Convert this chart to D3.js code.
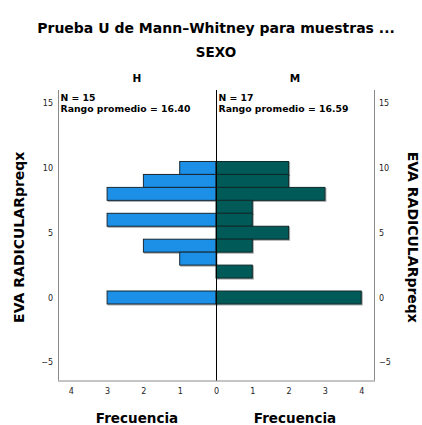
<!DOCTYPE html>
<html><head><meta charset="utf-8">
<script src="https://cdn.jsdelivr.net/npm/d3@7"></script>
<style>
html,body{margin:0;padding:0;background:#fff;}
svg{display:block;font-family:"DejaVu Sans",sans-serif;}
</style></head>
<body>
<svg id="c" width="422" height="425"></svg>
<script>
const title = "Prueba U de Mann\u2013Whitney para muestras ...";
const groupTitle = "SEXO";
const groups = ["H", "M"];
const groupN = [15, 17];
const groupRank = ["16.40", "16.59"];
const bins = [10, 9, 8, 7, 6, 5, 4, 3, 2, 0];
const freqH = [1, 2, 3, 0, 3, 0, 2, 1, 0, 3];
const freqM = [2, 2, 3, 1, 1, 2, 1, 0, 1, 4];
const yTicks = [-5, 0, 5, 10, 15];
const xTicks = [0, 1, 2, 3, 4];
const yTitle = "EVA RADICULARpreqx";
const xTitle = "Frecuencia";
const colors = ["#1a8fe6", "#025a59"];

const svg = d3.select("#c");
const L = 58, R = 374, C = 216, T = 90, B = 380.5;
const y = d3.scaleLinear().domain([-6.41, 16.02]).range([B, T]);
const xL = d3.scaleLinear().domain([0, (C - L) / 36.3]).range([C, L]);
const xR = d3.scaleLinear().domain([0, (R - C) / 36.3]).range([C, R]);

// titles
svg.append("text").attr("x", 216).attr("y", 33).attr("text-anchor", "middle")
  .attr("font-weight", "bold").attr("font-size", 14).text(title);
svg.append("text").attr("x", 216).attr("y", 57).attr("text-anchor", "middle")
  .attr("font-weight", "bold").attr("font-size", 13.5).text(groupTitle);
[xL, xR].forEach((sc, i) => {
  const cx = (sc.range()[0] + sc.range()[1]) / 2;
  svg.append("text").attr("x", cx).attr("y", 82).attr("text-anchor", "middle")
    .attr("font-weight", "bold").attr("font-size", 10.5).text(groups[i]);
});

// shadow filter
const defs = svg.append("defs");
const f = defs.append("filter").attr("id", "sh").attr("x", "-10%").attr("y", "-30%").attr("width", "130%").attr("height", "180%");
f.append("feDropShadow").attr("dx", 1).attr("dy", 1).attr("stdDeviation", 0.6).attr("flood-color", "#000").attr("flood-opacity", 0.35);

// bars
const data = bins.map((b, i) => ({ b, h: freqH[i], m: freqM[i] }));
const g = svg.append("g");
g.selectAll("rect.h").data(data.filter(d => d.h > 0)).join("rect").attr("class", "h")
  .attr("x", d => xL(d.h)).attr("width", d => xL(0) - xL(d.h))
  .attr("y", d => y(d.b + 0.5)).attr("height", d => y(d.b - 0.5) - y(d.b + 0.5))
  .attr("fill", colors[0]).attr("stroke", "#1b2a33").attr("stroke-width", 1)
  .attr("filter", "url(#sh)");
g.selectAll("rect.m").data(data.filter(d => d.m > 0)).join("rect").attr("class", "m")
  .attr("x", xR(0)).attr("width", d => xR(d.m) - xR(0))
  .attr("y", d => y(d.b + 0.5)).attr("height", d => y(d.b - 0.5) - y(d.b + 0.5))
  .attr("fill", colors[1]).attr("stroke", "#0f2a2a").attr("stroke-width", 1)
  .attr("filter", "url(#sh)");

// frame
svg.append("line").attr("x1", L + 0.5).attr("x2", L + 0.5).attr("y1", T).attr("y2", B).attr("stroke", "#8a8a8a");
svg.append("line").attr("x1", R + 0.5).attr("x2", R + 0.5).attr("y1", T).attr("y2", B).attr("stroke", "#8a8a8a");
svg.append("line").attr("x1", L).attr("x2", R + 1).attr("y1", B + 0.5).attr("y2", B + 0.5).attr("stroke", "#8a8a8a");
svg.append("line").attr("x1", C + 0.5).attr("x2", C + 0.5).attr("y1", T).attr("y2", B).attr("stroke", "#000");

// N labels
[xL, xR].forEach((sc, i) => {
  const x0 = (i === 0 ? L : C) + 2.5;
  svg.append("text").attr("x", x0).attr("y", 100.5).attr("font-weight", "bold").attr("font-size", 9.3).text("N = " + groupN[i]);
  svg.append("text").attr("x", x0).attr("y", 111.5).attr("font-weight", "bold").attr("font-size", 9.3).text("Rango promedio = " + groupRank[i]);
});

// y axes
const fmt = d => d < 0 ? "\u2212" + Math.abs(d) : d;
const ayL = svg.append("g").attr("transform", `translate(${L - 3},0)`)
  .call(d3.axisLeft(y).tickValues(yTicks).tickSize(0).tickPadding(2).tickFormat(fmt));
const ayR = svg.append("g").attr("transform", `translate(${R + 3},0)`)
  .call(d3.axisRight(y).tickValues(yTicks).tickSize(0).tickPadding(2).tickFormat(fmt));
[ayL, ayR].forEach(a => {
  a.select(".domain").remove();
  a.selectAll("text").attr("font-size", 8).attr("font-family", "DejaVu Sans").attr("fill", "#222");
});

// x axes
const axL = svg.append("g").attr("transform", `translate(0,${B + 6})`)
  .call(d3.axisBottom(xL).tickValues(xTicks).tickSize(0).tickPadding(2).tickFormat(d3.format("d")));
const axR = svg.append("g").attr("transform", `translate(0,${B + 6})`)
  .call(d3.axisBottom(xR).tickValues(xTicks.slice(1)).tickSize(0).tickPadding(2).tickFormat(d3.format("d")));
[axL, axR].forEach(a => {
  a.select(".domain").remove();
  a.selectAll("text").attr("font-size", 8).attr("font-family", "DejaVu Sans").attr("fill", "#222");
});

// axis titles
[xL, xR].forEach(sc => {
  const cx = (sc.range()[0] + sc.range()[1]) / 2;
  svg.append("text").attr("x", cx).attr("y", 423).attr("text-anchor", "middle")
    .attr("font-weight", "bold").attr("font-size", 13.5).text(xTitle);
});
const ym = (T + B) / 2 + 2;
svg.append("text").attr("transform", `translate(24,${ym}) rotate(-90)`).attr("text-anchor", "middle")
  .attr("font-weight", "bold").attr("font-size", 14).text(yTitle);
svg.append("text").attr("transform", `translate(408,${ym}) rotate(90)`).attr("text-anchor", "middle")
  .attr("font-weight", "bold").attr("font-size", 14).text(yTitle);
</script>
</body></html>
